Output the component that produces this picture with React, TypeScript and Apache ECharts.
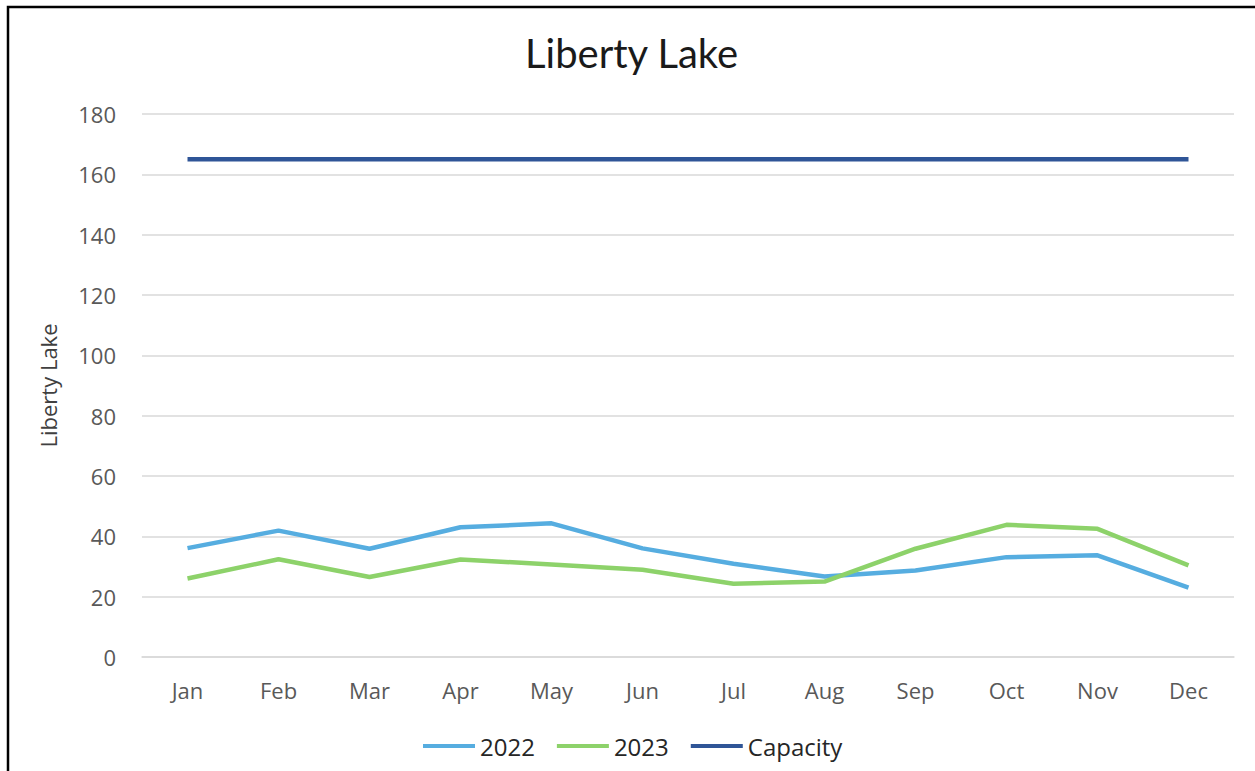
import React, { useEffect, useRef } from "react";
import * as echarts from "echarts";

const months = ["Jan", "Feb", "Mar", "Apr", "May", "Jun", "Jul", "Aug", "Sep", "Oct", "Nov", "Dec"];
const values2022 = [36.1, 41.9, 35.9, 43.0, 44.3, 36.0, 30.9, 26.7, 28.7, 33.1, 33.7, 23.0];
const values2023 = [26.0, 32.4, 26.5, 32.3, 30.7, 28.9, 24.3, 25.0, 35.9, 43.8, 42.5, 30.4];
const capacity = [165, 165, 165, 165, 165, 165, 165, 165, 165, 165, 165, 165];
const yTicks = { min: 0, max: 180, interval: 20 };

export default function App() {
  const ref = useRef<HTMLDivElement>(null);
  useEffect(() => {
    if (!ref.current) return;
    const chart = echarts.init(ref.current, undefined, { renderer: "svg" });
    const font = "'Open Sans', sans-serif";
    chart.setOption({
      animation: false,
      backgroundColor: "#ffffff",
      title: {
        text: "Liberty Lake",
        left: 520,
        top: 28,
        textStyle: { fontFamily: "Lato, sans-serif", fontSize: 40, fontWeight: "normal", color: "#1a1a1a" },
      },
      graphic: [
        {
          type: "rect",
          shape: { x: 8, y: 7, width: 1270, height: 790 },
          style: { fill: "none", stroke: "#000000", lineWidth: 2.5 },
          silent: true,
        },
      ],
      legend: {
        top: 729,
        left: 418,
        icon: "rect",
        itemWidth: 52,
        itemHeight: 4,
        itemGap: 22,
        textStyle: { fontFamily: font, fontSize: 24, color: "#262626" },
        data: ["2022", "2023", "Capacity"],
      },
      grid: { left: 142, right: 21, top: 114, bottom: 114, containLabel: false },
      xAxis: {
        type: "category",
        data: months,
        boundaryGap: true,
        axisLine: { show: true, lineStyle: { color: "#d9d9d9", width: 1.5 } },
        axisTick: { show: false },
        axisLabel: { margin: 22, fontFamily: font, fontSize: 22, color: "#595959" },
      },
      yAxis: {
        type: "value",
        min: yTicks.min,
        max: yTicks.max,
        interval: yTicks.interval,
        name: "Liberty Lake",
        nameLocation: "middle",
        nameGap: 83,
        nameTextStyle: { fontFamily: font, fontSize: 22, color: "#404040" },
        axisLine: { show: false },
        axisTick: { show: false },
        axisLabel: { margin: 26, fontFamily: font, fontSize: 22, color: "#595959" },
        splitLine: { lineStyle: { color: "#d9d9d9", width: 1.5 } },
      },
      series: [
        {
          name: "2022",
          type: "line",
          data: values2022,
          symbol: "none",
          lineStyle: { color: "#56ade0", width: 4.5 },
          itemStyle: { color: "#56ade0" },
        },
        {
          name: "2023",
          type: "line",
          data: values2023,
          symbol: "none",
          lineStyle: { color: "#8dd26a", width: 4.5 },
          itemStyle: { color: "#8dd26a" },
        },
        {
          name: "Capacity",
          type: "line",
          data: capacity,
          symbol: "none",
          lineStyle: { color: "#2f5597", width: 4.5 },
          itemStyle: { color: "#2f5597" },
        },
      ],
    });
    return () => chart.dispose();
  }, []);
  return (
    <div
      ref={ref}
      style={{ position: "absolute", left: 0, top: 0, width: 1255, height: 771 }}
    />
  );
}
